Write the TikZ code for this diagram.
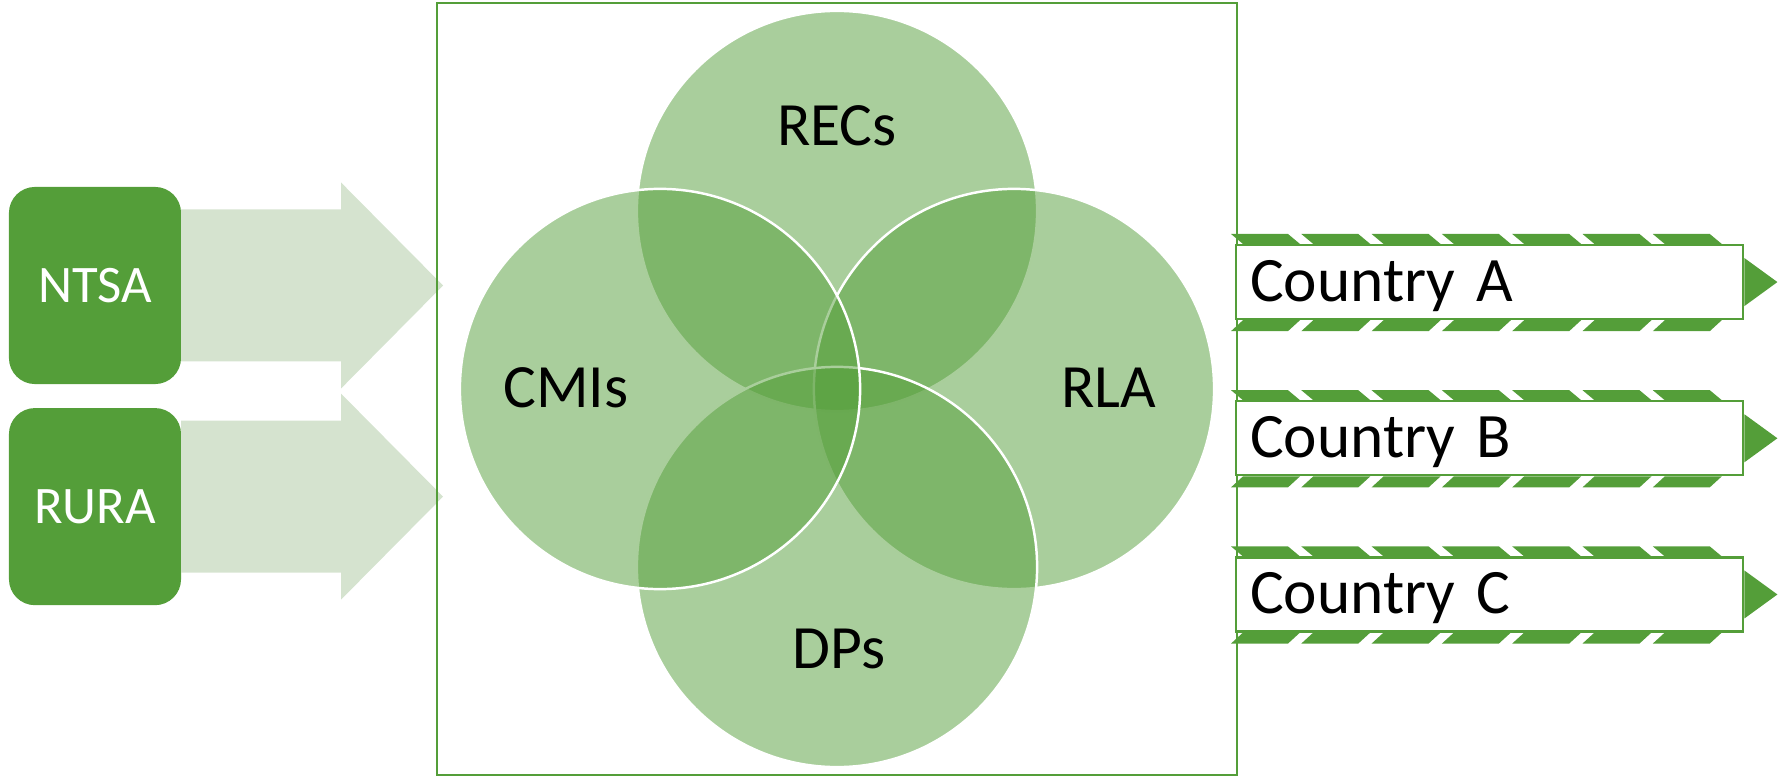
\documentclass[tikz,border=0pt]{standalone}
\usepackage{fontspec}
\setmainfont{Carlito}
\usepackage{tikz}
\usetikzlibrary{arrows,shapes,positioning,calc,backgrounds}
\definecolor{dfgreen}{RGB}{84,158,57}
\definecolor{dfpale}{RGB}{213,227,207}
\tikzstyle{srcbox} = [rectangle, rounded corners=0.26cm, minimum width=1.72cm, minimum height=1.97cm, inner sep=0pt, outer sep=0pt, fill=dfgreen, text=white, font=\fontsize{15}{18}\selectfont]
\tikzstyle{flowarrow} = [fill=dfpale]
\tikzstyle{vennframe} = [rectangle, draw=dfgreen, line width=0.6pt, minimum width=8cm, minimum height=7.72cm, inner sep=0pt]
\tikzstyle{venncircle} = [circle, minimum size=4cm, inner sep=0pt, fill=dfgreen, fill opacity=0.5, draw=white, line width=0.7pt]
\tikzstyle{vennlabel} = [anchor=base, font=\fontsize{17.5}{20}\selectfont]
\tikzstyle{countrybox} = [rectangle, draw=dfgreen, fill=white, line width=0.6pt, minimum height=0.74cm, text width=4.79cm, align=left, inner xsep=0.14cm, inner ysep=0pt, text height=0.5cm, text depth=0.12cm, font=\fontsize{18}{20}\selectfont]
\tikzstyle{stripe} = [fill=dfgreen]

\begin{document}
\begin{tikzpicture}[x=0.01cm, y=-0.01cm]
\useasboundingbox (0,0) rectangle (1790,776);

% sources
\node[srcbox] (ntsa) at (95,285.5) {NTSA};
\node[srcbox, below=0.24cm of ntsa] (rura) {RURA};
\foreach \src/\dy in {ntsa/0, rura/-10}
  \fill[flowarrow] ($(\src.east)+(0,\dy-76)$) -- ++(160,0) -- ++(0,-27) -- ++(102,103)
    -- ++(-102,103) -- ++(0,-27) -- ++(-160,0) -- cycle;

% venn
\node[vennframe] (venn) at (837,389) {};
\foreach \name/\dx/\dy in {recs/0/-178, rla/177/0, dps/0/178, cmis/-177/0}
  \node[venncircle] (\name) at ($(venn)+(\dx,\dy)$) {};
\node[vennlabel] (recsT) at ($(recs)+(0,-65)$) {RECs};
\node[vennlabel] (cmisT) at ($(cmis)+(-94,19)$) {CMIs};
\node[vennlabel] (rlaT) at ($(rla)+(95,19)$) {RLA};
\node[vennlabel] (dpsT) at ($(dps)+(2,101)$) {DPs};

% countries
\node[countrybox, anchor=north west] (ctryA) at (1235,244) {Country A};
\node[countrybox, below=0.8cm of ctryA] (ctryB) {Country B};
\node[countrybox, below=0.8cm of ctryB] (ctryC) {Country C};
\begin{scope}[on background layer]
\foreach \ctry in {ctryA,ctryB,ctryC} {
  \foreach \i in {0,...,6} {
    \fill[stripe] ($(\ctry.north west)+(-4+70.3*\i,-10)$) -- ++(57,0) -- ++(12,10) -- ++(-57,0) -- cycle;
    \fill[stripe] ($(\ctry.south west)+(-4+70.3*\i,11)$) -- ++(57,0) -- ++(12,-11) -- ++(-57,0) -- cycle;
  }
  \fill[stripe] ($(\ctry.east)+(0,-24)$) -- ($(\ctry.east)+(33,0)$) -- ($(\ctry.east)+(0,24)$) -- cycle;
}
\end{scope}
\end{tikzpicture}
\end{document}
